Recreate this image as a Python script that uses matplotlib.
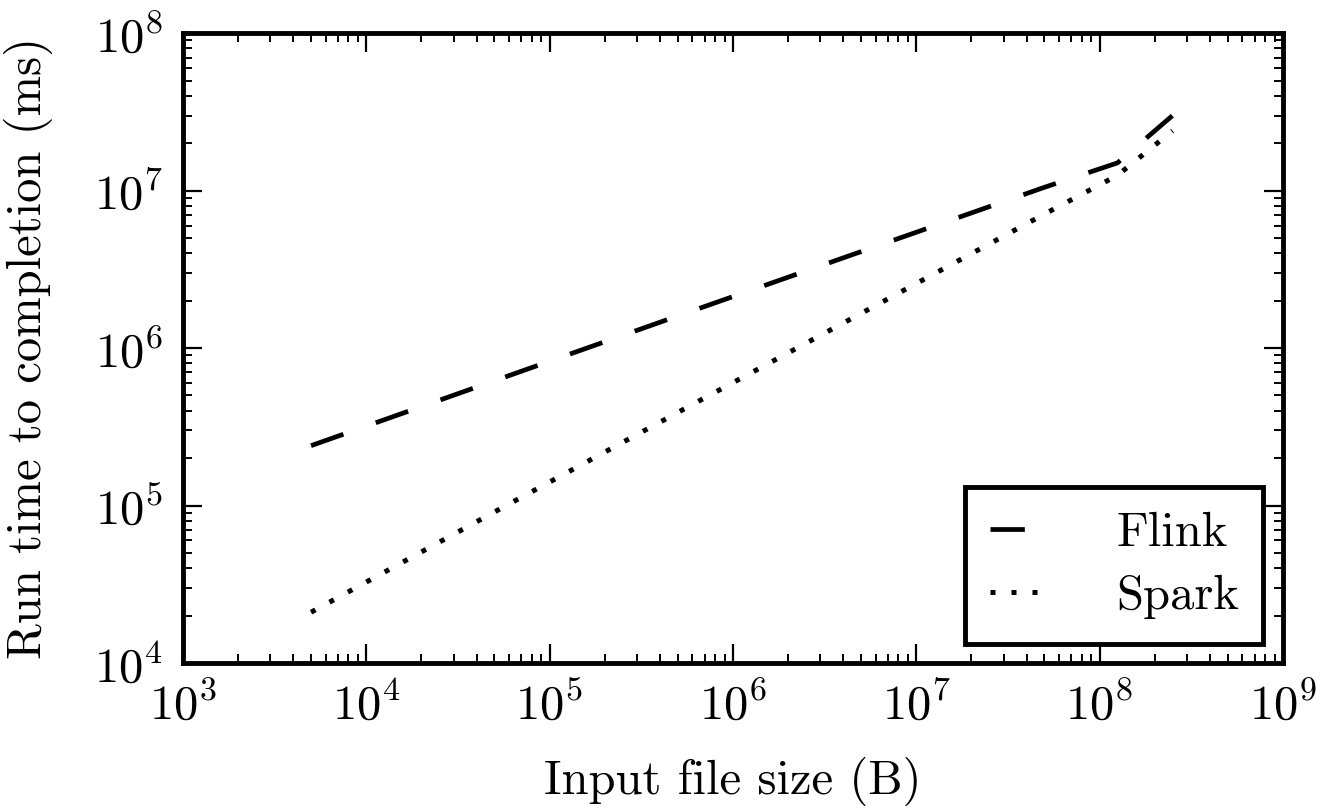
import matplotlib
matplotlib.use('Agg')

import matplotlib.pyplot as plt

# input file size (B) and run time (ms)
sizes = [5e3, 5e4, 5e5, 5e6, 5e7, 1.25e8, 2.5e8]
flink_ms = [2.4e5, 6.2e5, 1.6e6, 4.1e6, 1.05e7, 1.5e7, 3.0e7]
spark_ms = [2.1e4, 9.1e4, 3.9e5, 1.66e6, 7.1e6, 1.25e7, 2.4e7]

plt.rcParams['font.family'] = 'serif'
plt.rcParams['font.serif'] = ['cmr10']
plt.rcParams['mathtext.fontset'] = 'cm'
plt.rcParams['axes.formatter.use_mathtext'] = True
plt.rcParams['font.size'] = 35

fig = plt.figure(figsize=(13.35, 8.10), dpi=100)
ax = fig.add_axes([0.137, 0.1815, 0.824, 0.7775])

ax.plot(sizes, flink_ms, color='black', lw=3.4, dashes=(7.27, 7.27),
        dash_capstyle='butt', label='Flink')
ax.plot(sizes, spark_ms, color='black', lw=3.6, dashes=(1, 3.2),
        dash_capstyle='butt', label='Spark')

ax.set_xscale('log')
ax.set_yscale('log')
ax.set_xlim(1e3, 1e9)
ax.set_ylim(1e4, 1e8)

ax.set_xlabel('Input file size (B)', labelpad=20)
ax.set_ylabel('Run time to completion (ms)', labelpad=30)

for sp in ax.spines.values():
    sp.set_linewidth(3.5)
ax.tick_params(which='both', direction='in', top=True, right=True)
ax.tick_params(which='major', length=14, width=1.6, pad=14)
ax.tick_params(which='minor', length=6.5, width=1.4)

leg = ax.legend(loc='lower right', fancybox=False, framealpha=1,
                handlelength=1.1, handletextpad=1.5, borderaxespad=0.4,
                borderpad=0.5, labelspacing=0.4)
leg.get_frame().set_edgecolor('black')
leg.get_frame().set_linewidth(3.5)

fig.savefig('out.png', dpi=100)
